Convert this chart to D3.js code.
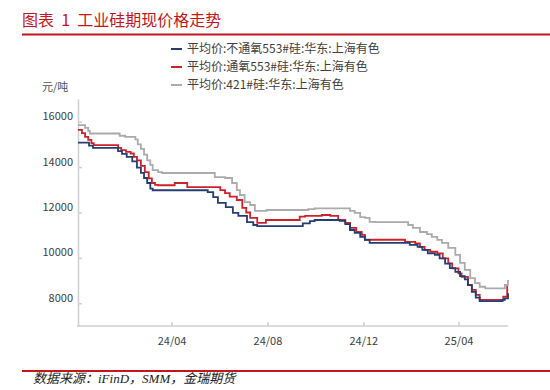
<!DOCTYPE html>
<html>
<head>
<meta charset="utf-8">
<script src="https://cdn.jsdelivr.net/npm/d3@7"></script>
<style>
  body { margin: 0; background: #fff; }
  svg { display: block; }
  .axis path, .axis line { stroke: #cfcfcf; stroke-width: 1.5; }
  .axis text { font-family: "Noto Sans CJK SC", "Noto Sans", sans-serif; font-size: 11px; fill: #404040; }
</style>
</head>
<body>
<script>
// 平均价:不通氧553#硅:华东:上海有色
var datesNoOxy = ["2023-12-04","2023-12-18","2023-12-23","2024-01-24","2024-01-29","2024-02-04","2024-02-11",
  "2024-02-17","2024-02-22","2024-02-26","2024-03-01","2024-03-05","2024-03-08","2024-05-17","2024-05-24",
  "2024-05-30","2024-06-09","2024-06-18","2024-06-25","2024-07-06","2024-07-14","2024-07-19","2024-09-15",
  "2024-09-24","2024-09-30","2024-11-01","2024-11-08","2024-11-14","2024-11-20","2024-11-27","2024-12-03",
  "2024-12-09","2025-01-29","2025-02-08","2025-02-14","2025-02-21","2025-03-02","2025-03-08","2025-03-15",
  "2025-03-21","2025-03-28","2025-04-03","2025-04-09","2025-04-13","2025-04-18","2025-04-23","2025-04-28",
  "2025-05-27","2025-05-30","2025-06-03"];
var priceNoOxy = [15080,14950,14850,14700,14580,14450,14250,
  13980,13750,13520,13300,13050,12980,12900,12680,
  12420,12240,11980,11850,11580,11450,11400,11520,
  11620,11670,11630,11490,11230,11100,10930,10790,
  10660,10570,10490,10350,10200,10130,9980,9750,
  9550,9380,9200,9050,8800,8500,8250,8100,
  8150,8220,8440];

// 平均价:通氧553#硅:华东:上海有色
var datesOxy = ["2023-12-04","2023-12-09","2023-12-13","2023-12-17","2023-12-21","2023-12-24","2024-01-24",
  "2024-01-28","2024-02-03","2024-02-09","2024-02-13","2024-02-17","2024-02-22","2024-02-27","2024-03-03",
  "2024-03-07","2024-03-11","2024-03-15","2024-04-05","2024-04-21","2024-06-02","2024-06-08","2024-06-14",
  "2024-06-23","2024-06-30","2024-07-05","2024-07-10","2024-07-19","2024-07-30","2024-09-11","2024-09-18",
  "2024-10-09","2024-10-20","2024-10-30","2024-11-08","2024-11-14","2024-11-22","2024-11-29","2024-12-03",
  "2025-01-23","2025-02-05","2025-02-11","2025-02-17","2025-02-24","2025-03-05","2025-03-12","2025-03-19",
  "2025-03-24","2025-04-01","2025-04-05","2025-04-13","2025-04-18","2025-04-23","2025-04-28","2025-05-28",
  "2025-06-02","2025-06-03"];
var priceOxy = [15640,15500,15330,15200,15060,14970,14850,
  14750,14670,14600,14450,14300,14050,13780,13500,
  13300,13220,13200,13300,13120,12990,12850,12700,
  12550,12200,12000,11760,11540,11670,11820,11850,
  11890,11850,11670,11540,11320,11150,11010,10800,
  10710,10640,10490,10350,10270,10200,9980,9760,
  9540,9320,9160,8810,8590,8370,8150,8290,
  8730,8730];

// 平均价:421#硅:华东:上海有色
var dates421 = ["2023-12-04","2023-12-13","2023-12-17","2023-12-19","2024-01-26","2024-02-02","2024-02-15",
  "2024-02-18","2024-02-22","2024-02-26","2024-03-01","2024-03-05","2024-03-08","2024-03-15","2024-03-20",
  "2024-05-26","2024-06-08","2024-06-17","2024-06-23","2024-06-27","2024-07-03","2024-07-10","2024-07-16",
  "2024-07-31","2024-09-22","2024-09-30","2024-11-14","2024-11-20","2024-11-27","2024-12-03","2024-12-09",
  "2024-12-16","2025-01-27","2025-02-02","2025-02-11","2025-02-20","2025-02-26","2025-03-05","2025-03-11",
  "2025-03-19","2025-03-28","2025-04-03","2025-04-09","2025-04-16","2025-04-22","2025-04-28","2025-05-05",
  "2025-05-30","2025-06-03"];
var price421 = [15850,15730,15600,15480,15380,15330,15220,
  15000,14800,14550,14300,14100,13870,13780,13740,
  13560,13520,13300,12990,12770,12460,12330,12070,
  12110,12150,12180,12070,11980,11800,11760,11590,
  11580,11450,11320,11140,11050,10930,10790,10660,
  10440,10130,9780,9470,9110,8890,8730,8660,
  8810,9030];

var seriesNames = ["平均价:不通氧553#硅:华东:上海有色", "平均价:通氧553#硅:华东:上海有色", "平均价:421#硅:华东:上海有色"];
var seriesColors = ["#263d73", "#cc2229", "#ababab"];
var yTicks = [8000, 10000, 12000, 14000, 16000];
var xTicks = ["2024-04-01", "2024-08-01", "2024-12-01", "2025-04-01"];

var W = 550, H = 390;
var plot = {left: 78, right: 508, top: 99, bottom: 326};
var parse = d3.timeParse("%Y-%m-%d");

var series = [
  {name: seriesNames[0], color: seriesColors[0], dates: datesNoOxy, values: priceNoOxy},
  {name: seriesNames[1], color: seriesColors[1], dates: datesOxy, values: priceOxy},
  {name: seriesNames[2], color: seriesColors[2], dates: dates421, values: price421}
].map(function(s){
    s.points = s.dates.map(function(d, i){ return {date: parse(d), value: s.values[i]}; });
    return s;
});

var xScale = d3.scaleTime()
    .domain([parse("2023-12-04"), parse("2025-06-03")])
    .range([plot.left, plot.right]);
var yScale = d3.scaleLinear()
    .domain([7000, 17000])
    .range([plot.bottom, plot.top]);

var svg = d3.select("body").append("svg")
    .attr("width", W)
    .attr("height", H);

// title + red rules
svg.append("text")
    .attr("x", 22)
    .attr("y", 26)
    .attr("font-family", "'Noto Sans CJK SC', sans-serif")
    .attr("font-size", "16px")
    .attr("fill", "#c4161c")
    .style("white-space", "pre")
    .text("图表  1  工业硅期现价格走势");

svg.append("line")
    .attr("x1", 22).attr("x2", W)
    .attr("y1", 34.5).attr("y2", 34.5)
    .attr("stroke", "#c4161c")
    .attr("stroke-width", 2);

svg.append("line")
    .attr("x1", 22).attr("x2", W)
    .attr("y1", 371).attr("y2", 371)
    .attr("stroke", "#c4161c")
    .attr("stroke-width", 2);

svg.append("text")
    .attr("x", 33)
    .attr("y", 383)
    .attr("font-family", "'Liberation Serif', 'Noto Sans CJK SC', serif")
    .attr("font-style", "italic")
    .attr("font-size", "13px")
    .attr("fill", "#222")
    .text("数据来源：iFinD，SMM，金瑞期货");

// axes
var yAxis = svg.append("g")
    .attr("class", "axis")
    .attr("transform", "translate(" + plot.left + ",0)")
    .call(d3.axisLeft(yScale).tickValues(yTicks).tickSizeInner(-4).tickSizeOuter(0).tickPadding(5).tickFormat(d3.format("d")));
yAxis.selectAll("text").attr("y", -5.5);

var xAxis = svg.append("g")
    .attr("class", "axis")
    .attr("transform", "translate(0," + plot.bottom + ")")
    .call(d3.axisBottom(xScale).tickValues(xTicks.map(parse)).tickSizeInner(-4).tickSizeOuter(0).tickPadding(11)
        .tickFormat(d3.timeFormat("%y/%m")));
xAxis.select(".domain").attr("d", "M" + (plot.left - 1) + ",0H" + plot.right);

svg.append("text")
    .attr("x", 42)
    .attr("y", 91)
    .attr("font-family", "'Noto Sans CJK SC', sans-serif")
    .attr("font-size", "11px")
    .attr("fill", "#505050")
    .text("元/吨");

// lines
var line = d3.line()
    .x(function(d){ return xScale(d.date); })
    .y(function(d){ return yScale(d.value); })
    .curve(d3.curveStepAfter);

svg.selectAll(".series")
    .data(series.slice().reverse())
    .enter()
    .append("path")
    .attr("class", "series")
    .attr("fill", "none")
    .attr("stroke", function(d){ return d.color; })
    .attr("stroke-width", 1.8)
    .attr("d", function(d){ return line(d.points); });

// legend
var legend = svg.selectAll(".legend")
    .data(series)
    .enter()
    .append("g")
    .attr("class", "legend")
    .attr("transform", function(d, i){ return "translate(171," + (49 + i * 18) + ")"; });

legend.append("line")
    .attr("x1", 0).attr("x2", 11)
    .attr("y1", 0).attr("y2", 0)
    .attr("stroke", function(d){ return d.color; })
    .attr("stroke-width", 2);

legend.append("text")
    .attr("x", 16)
    .attr("y", 4)
    .attr("font-family", "'Noto Sans CJK SC', sans-serif")
    .attr("font-size", "12px")
    .attr("fill", "#404040")
    .text(function(d){ return d.name; });
</script>
</body>
</html>
